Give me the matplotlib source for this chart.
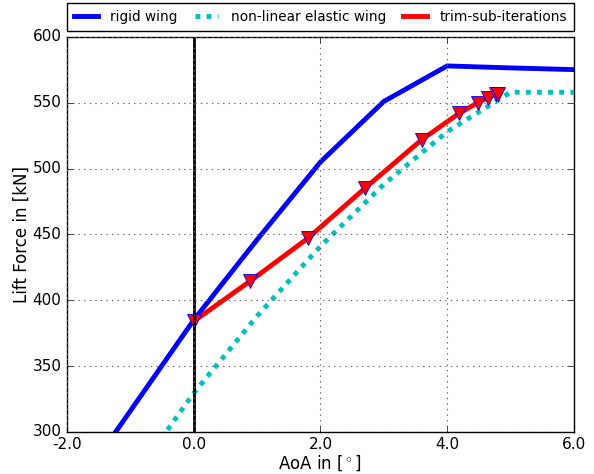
import numpy as np
import matplotlib
matplotlib.use('Agg')
import matplotlib.pyplot as plt
from matplotlib.ticker import FormatStrFormatter

plt.style.use('classic')

# rigid wing polar
aoa_rigid = [-2, -1, 0, 1, 2, 3, 4, 5, 6]
lift_rigid = [247, 316, 385, 446, 505, 551, 578, 576.5, 575.2]

# non-linear elastic wing polar
aoa_elastic = [-1, 0, 1, 2, 3, 4, 5, 6]
lift_elastic = [262, 329.5, 388, 441, 488, 528, 558, 558]

# trim sub-iterations
aoa_trim = [0.0, 0.89, 1.80, 2.70, 3.60, 4.19, 4.48, 4.65, 4.77, 4.80]
lift_trim = [384, 414.5, 447, 485, 522, 542, 550, 554, 556.3, 557]

fig = plt.figure(figsize=(5.94, 4.74), dpi=100, facecolor='white')
ax = fig.add_axes([0.113, 0.089, 0.853, 0.833])

ax.plot(aoa_rigid, lift_rigid, '-', color='b', lw=3.5, label='rigid wing')
ax.plot(aoa_elastic, lift_elastic, '--', color='c', lw=3.5, dashes=(3.5, 4.5),
        label='non-linear elastic wing')
ax.plot(aoa_trim, lift_trim, '-', color='r', lw=3.5, marker='v', markersize=10,
        markerfacecolor='r', markeredgecolor='b', markeredgewidth=0.6,
        label='trim-sub-iterations')
ax.axvline(0, color='k', lw=2)

ax.set_xlim(-2, 6)
ax.set_ylim(300, 600)
ax.set_xticks([-2, 0, 2, 4, 6])
ax.set_yticks([300, 350, 400, 450, 500, 550, 600])
ax.xaxis.set_major_formatter(FormatStrFormatter('%.1f'))
ax.grid(True, color='0.4', linestyle=':', lw=0.8)
ax.set_xlabel('AoA in [$^\\circ$]', fontsize=12, labelpad=1)
ax.set_ylabel('Lift Force in [kN]', fontsize=12, labelpad=1)
ax.tick_params(labelsize=11, pad=4)

leg = ax.legend(loc='lower left', bbox_to_anchor=(0, 1.015, 1, 0.06), ncol=3,
                mode='expand', borderaxespad=0, fontsize=9.8, handlelength=1.75,
                numpoints=1, borderpad=0.5, handletextpad=0.9)
for line in leg.get_lines():
    line.set_marker('None')

fig.savefig('out.png', dpi=100, facecolor='white')
